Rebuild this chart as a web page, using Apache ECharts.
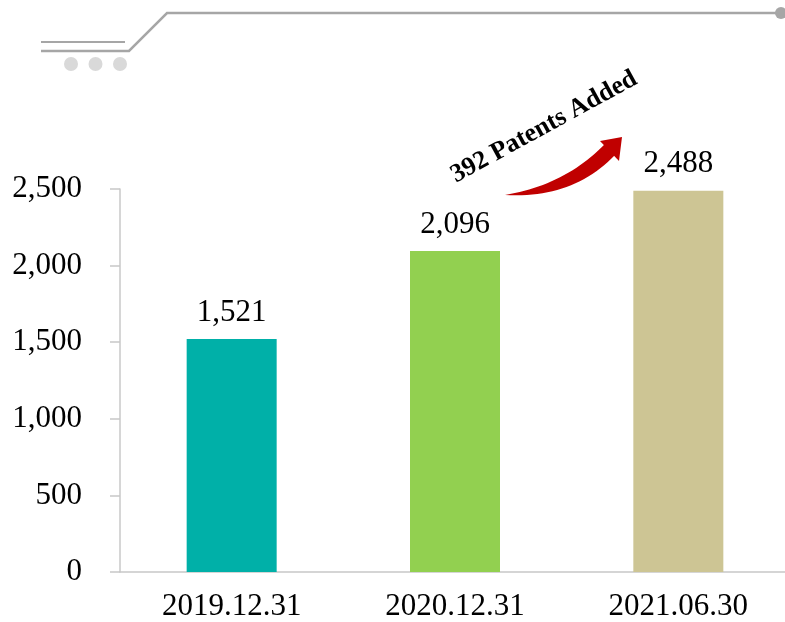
<!DOCTYPE html>
<html>
<head>
<meta charset="utf-8">
<script src="https://cdn.jsdelivr.net/npm/echarts@6/dist/echarts.min.js"></script>
<style>
  html, body { margin: 0; padding: 0; background: #fff; overflow: hidden; }
  #myEcharts { width: 792px; height: 622px; }
</style>
</head>
<body>
<div id="myEcharts"></div>
<script>
var categories = ['2019.12.31', '2020.12.31', '2021.06.30'];
var patents = [1521, 2096, 2488];
var barColors = ['#00b0a8', '#92d050', '#cdc594'];
var yTicks = [0, 500, 1000, 1500, 2000, 2500];
var noteText = '392 Patents Added';

var chartDom = document.getElementById('myEcharts');
var myChart = echarts.init(chartDom);
var font = '"Liberation Serif", "Times New Roman", serif';
var lineGray = '#a6a6a6';

// tapered arrow shaft: two quadratic curves sampled into a polygon
function quad(p0, c, p1, n) {
    var pts = [];
    for (var i = 0; i <= n; i++) {
        var t = i / n, u = 1 - t;
        pts.push([u * u * p0[0] + 2 * u * t * c[0] + t * t * p1[0],
                  u * u * p0[1] + 2 * u * t * c[1] + t * t * p1[1]]);
    }
    return pts;
}
var shaft = quad([505, 195], [565, 185], [605, 144], 24)
    .concat(quad([615, 155], [573, 199], [505, 195], 24));

var option = {
    animation: false,
    grid: { left: 120, top: 189, bottom: 50, width: 670 },
    xAxis: {
        type: 'category',
        data: categories,
        axisLine: { lineStyle: { color: '#c8c8c8', width: 1.5 } },
        axisTick: { show: false },
        axisLabel: { color: '#000', fontFamily: font, fontSize: 31, margin: 19 }
    },
    yAxis: {
        type: 'value',
        min: yTicks[0],
        max: yTicks[yTicks.length - 1],
        interval: 500,
        splitLine: { show: false },
        axisLine: { show: true, lineStyle: { color: '#c8c8c8', width: 1.5 } },
        axisTick: { show: true, length: 10, lineStyle: { color: '#c8c8c8', width: 1.5 } },
        axisLabel: {
            color: '#000', fontFamily: font, fontSize: 31, margin: 38,
            formatter: function (v) { return v.toLocaleString('en-US'); }
        }
    },
    series: [{
        type: 'bar',
        barWidth: 90,
        data: patents.map(function (v, i) {
            return { value: v, itemStyle: { color: barColors[i] } };
        }),
        label: {
            show: true, position: 'top', distance: 11,
            color: '#000', fontFamily: font, fontSize: 31,
            formatter: function (p) { return p.value.toLocaleString('en-US'); }
        }
    }],
    graphic: [
        // decorative header
        { type: 'line', shape: { x1: 41, y1: 42, x2: 125, y2: 42 }, style: { stroke: lineGray, lineWidth: 2 } },
        { type: 'polyline', shape: { points: [[41, 51], [129, 51], [167, 13], [778, 13]] }, style: { stroke: lineGray, lineWidth: 2.5, fill: null } },
        { type: 'circle', shape: { cx: 781, cy: 13, r: 6 }, style: { fill: lineGray } },
        { type: 'circle', shape: { cx: 71, cy: 64, r: 7 }, style: { fill: '#d9d9d9' } },
        { type: 'circle', shape: { cx: 95.5, cy: 64, r: 7 }, style: { fill: '#d9d9d9' } },
        { type: 'circle', shape: { cx: 120, cy: 64, r: 7 }, style: { fill: '#d9d9d9' } },
        // curved arrow
        { type: 'polygon', shape: { points: shaft }, style: { fill: '#c00000' } },
        { type: 'polygon', shape: { points: [[622, 137], [600, 141], [619, 161]] }, style: { fill: '#c00000' } },
        {
            type: 'text', x: 544, y: 127, rotation: 0.5,
            style: {
                text: noteText, fontFamily: font, fontSize: 26, fontWeight: 'bold',
                fill: '#000', textAlign: 'center', textVerticalAlign: 'middle'
            }
        }
    ]
};

option && myChart.setOption(option);
</script>
</body>
</html>
